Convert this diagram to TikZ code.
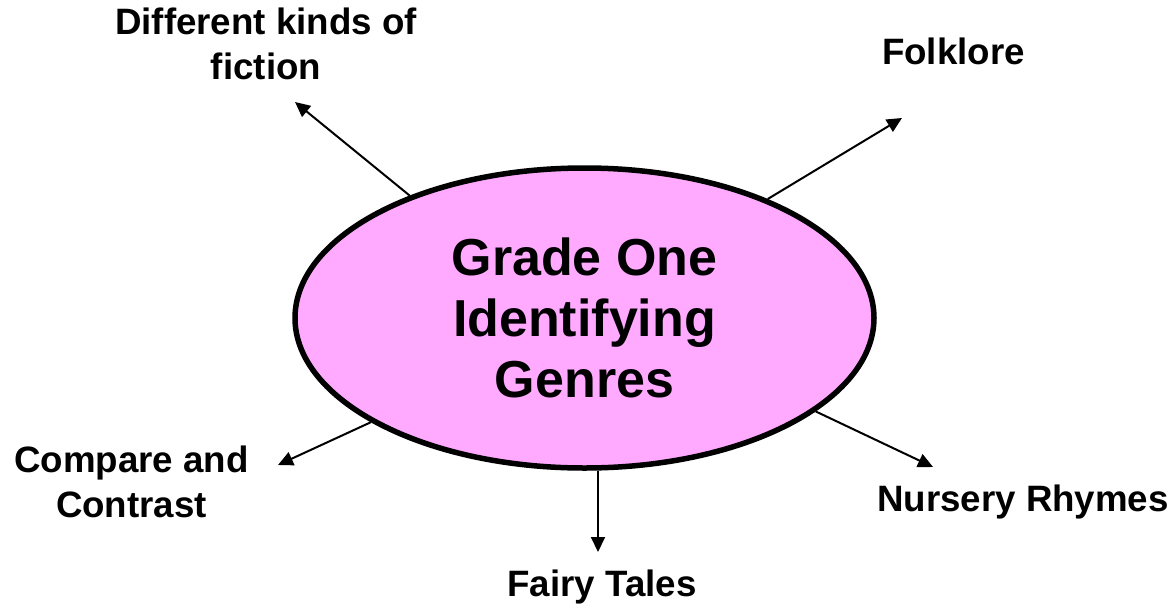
\documentclass[tikz,border=0pt]{standalone}
\usepackage{fontspec}
\setmainfont{Liberation Sans}
\usepackage{xcolor}
\usepackage{tikz}
\usetikzlibrary{positioning,arrows.meta,shapes.geometric}
\definecolor{genrepink}{RGB}{255,170,255}

\begin{document}
\begin{tikzpicture}[x=1pt, y=-1pt,
    topic/.style={ellipse, draw=black, line width=5.5pt, fill=genrepink, minimum width=579pt, minimum height=300pt, inner sep=0pt, align=center, font=\bfseries\fontsize{52}{61}\selectfont},
    genre/.style={rectangle, inner sep=0pt, align=center, font=\bfseries\fontsize{36.7}{45}\selectfont},
    arrow/.style={-{Triangle[length=15pt, width=14pt]}, line width=2pt},
]
\useasboundingbox (0,0) rectangle (1171,611);

% --- CENTRE TOPIC ---
\node[topic] (topic) at (584.5, 318) {Grade One\\Identifying\\Genres};

% --- GENRES ROUND IT ---
\node[genre] (fiction)  at (266, 44)     {Different kinds of\\fiction};
\node[genre] (folklore) at (953.5, 51.5) {Folklore};
\node[genre] (compare)  at (131.5, 481.5) {Compare and\\Contrast};
\node[genre] (fairy)    at (602, 587.5)  {Fairy Tales};
\node[genre] (nursery)  at (1023, 502.5) {Nursery Rhymes};

% --- ARROW TIPS ---
\coordinate (fictiontip)  at (295, 102);
\coordinate (folkloretip) at (902, 118);
\coordinate (comparetip)  at (278, 465);
\coordinate (fairytip)    at (598, 552);
\coordinate (nurserytip)  at (933, 467);

% --- ARROWS ---
\draw[arrow] (topic.145) -- (fictiontip);
\draw[arrow] (topic.33)  -- (folkloretip);
\draw[arrow] (topic.206) -- (comparetip);
\draw[arrow] (topic.south -| fairytip) -- (fairytip);
\draw[arrow] (topic.338) -- (nurserytip);

\end{tikzpicture}
\end{document}
